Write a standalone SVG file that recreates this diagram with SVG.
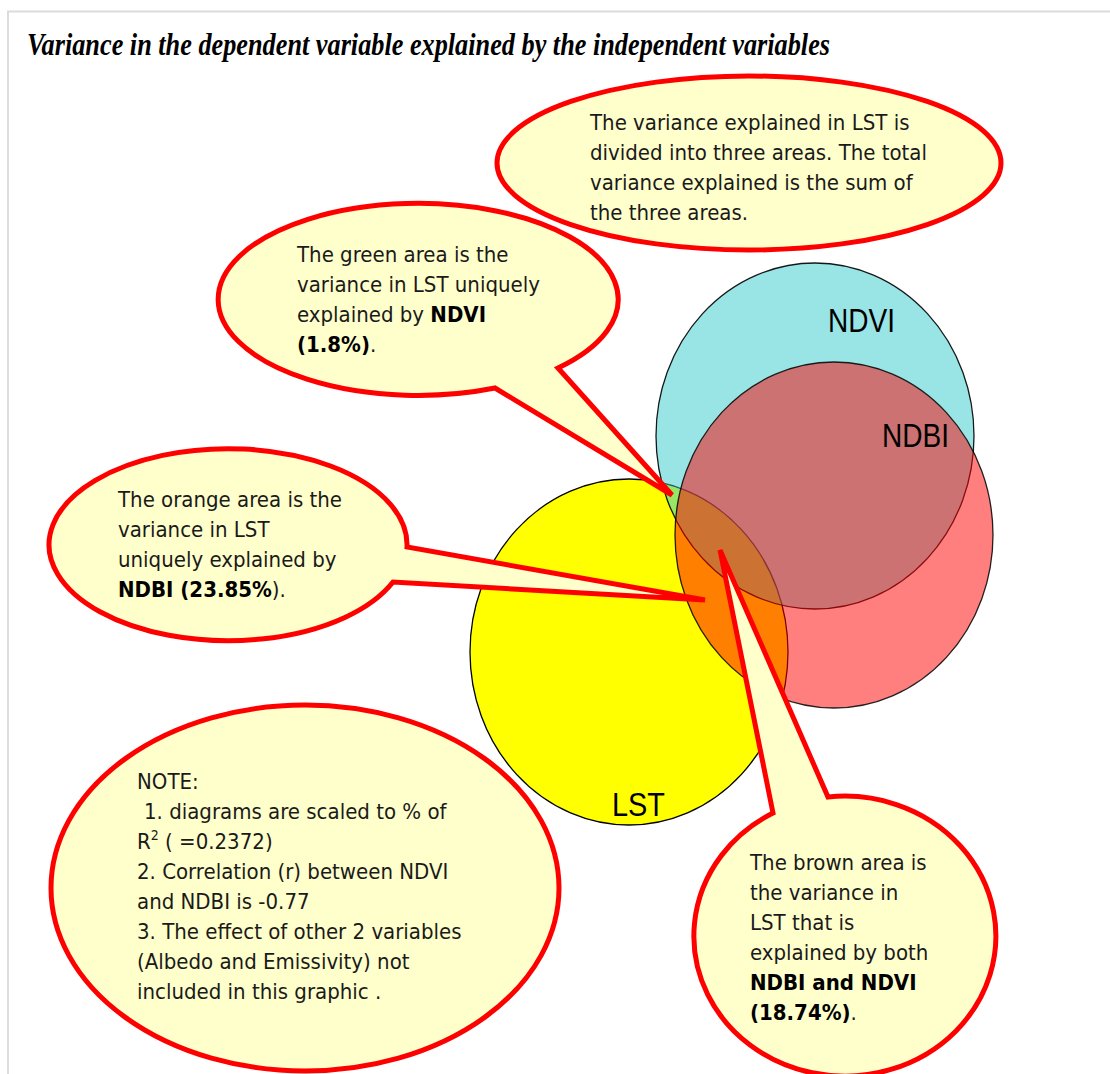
<svg xmlns="http://www.w3.org/2000/svg" width="1110" height="1074" viewBox="0 0 1110 1074">
<style>
.frame{fill:none;stroke:#dcdcdc;stroke-width:2}
.title{font-family:"Liberation Serif","Times New Roman",serif;font-weight:bold;font-style:italic;font-size:32px;fill:#000}
.callout{fill:#ffffcc;stroke:#ff0000;stroke-width:5;stroke-linejoin:miter;stroke-miterlimit:4}
.t{font-family:"DejaVu Sans Condensed","DejaVu Sans",sans-serif;font-stretch:condensed;font-size:22px;fill:#1a1a1a}
.b{font-weight:bold;fill:#000}
.lbl{font-family:"Liberation Sans",Arial,sans-serif;font-size:34px;fill:#000}
.circ{stroke:#000;stroke-width:1.3}
</style>
<rect width="1110" height="1074" fill="#fff"/>
<path class="frame" d="M8,1074 V11.5 H1110"/>
<text class="title" x="27" y="55" textLength="803" lengthAdjust="spacingAndGlyphs">Variance in the dependent variable explained by the independent variables</text>

<g id="venn">
  <g id="LST">
    <ellipse class="circ" cx="629" cy="652" rx="159" ry="173" fill="#ffff00"/>
    <text class="lbl" x="612" y="816" textLength="53" lengthAdjust="spacingAndGlyphs">LST</text>
  </g>
  <g id="NDVI">
    <ellipse class="circ" cx="815" cy="436" rx="159" ry="173" fill="#33cccc" fill-opacity="0.5" stroke-opacity="0.9"/>
    <text class="lbl" x="828" y="332" textLength="67" lengthAdjust="spacingAndGlyphs">NDVI</text>
  </g>
  <g id="NDBI">
    <ellipse class="circ" cx="834" cy="535" rx="159" ry="173" fill="#ff0000" fill-opacity="0.5" stroke-opacity="0.85"/>
    <text class="lbl" x="882" y="447" textLength="67" lengthAdjust="spacingAndGlyphs">NDBI</text>
  </g>
</g>

<g id="connectors"></g>

<g id="callout-total">
  <ellipse class="callout" cx="749" cy="163" rx="252" ry="87"/>
  <text class="t" x="590" y="130">The variance explained in LST is</text>
  <text class="t" x="590" y="160">divided into three areas. The total</text>
  <text class="t" x="590" y="190">variance explained is the sum of</text>
  <text class="t" x="590" y="220">the three areas.</text>
</g>

<g id="callout-green">
  <path class="callout" d="M495,388 A200 96 0 1 1 558,368 L672,495 Z"/>
  <text class="t" x="297" y="262">The green area is the</text>
  <text class="t" x="297" y="292">variance in LST uniquely</text>
  <text class="t" x="297" y="322">explained by <tspan class="b">NDVI</tspan></text>
  <text class="t" x="297" y="352"><tspan class="b">(1.8%)</tspan>.</text>
</g>

<g id="callout-orange">
  <path class="callout" d="M393,582 A179 96 0 1 1 407,547 L705,600 Z"/>
  <text class="t" x="118" y="507">The orange area is the</text>
  <text class="t" x="118" y="537">variance in LST</text>
  <text class="t" x="118" y="567">uniquely explained by</text>
  <text class="t" x="118" y="597"><tspan class="b">NDBI (23.85%</tspan>).</text>
</g>

<g id="callout-note">
  <ellipse class="callout" cx="305" cy="888" rx="254" ry="183"/>
  <text class="t" x="137" y="789">NOTE:</text>
  <text class="t" x="144" y="819">1. diagrams are scaled to % of</text>
  <text class="t" x="137" y="849">R<tspan font-size="14" dy="-9">2</tspan><tspan dy="9"> ( =0.2372)</tspan></text>
  <text class="t" x="137" y="879">2. Correlation (r) between NDVI</text>
  <text class="t" x="137" y="909">and NDBI is -0.77</text>
  <text class="t" x="137" y="939">3. The effect of other 2 variables</text>
  <text class="t" x="137" y="969">(Albedo and Emissivity) not</text>
  <text class="t" x="137" y="999">included in this graphic .</text>
</g>

<g id="callout-brown">
  <path class="callout" d="M828,797 A151 140 0 1 1 773,813 L720,550 Z"/>
  <text class="t" x="750" y="870">The brown area is</text>
  <text class="t" x="750" y="900">the variance in</text>
  <text class="t" x="750" y="930">LST that is</text>
  <text class="t" x="750" y="960">explained by both</text>
  <text class="t" x="750" y="990"><tspan class="b">NDBI and NDVI</tspan></text>
  <text class="t" x="750" y="1020"><tspan class="b">(18.74%)</tspan>.</text>
</g>
</svg>
